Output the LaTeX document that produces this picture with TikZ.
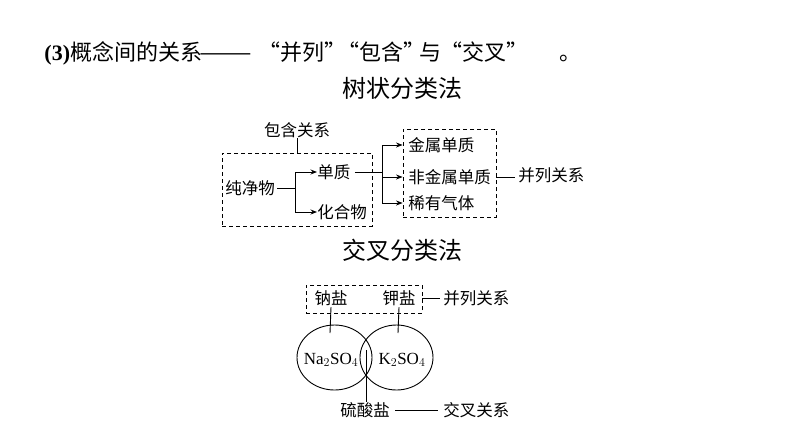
\documentclass[tikz,border=0pt]{standalone}
\usepackage{fontspec}
\usepackage{graphicx}
\setmainfont{Liberation Serif}
\newfontfamily\cjk{Noto Sans CJK SC}
\usetikzlibrary{arrows.meta,shapes.geometric}

\begin{document}
\begin{tikzpicture}[x=1pt,y=-1pt,line width=0.9pt,
	txt/.style={inner sep=0pt,font=\cjk\fontsize{16.5}{18}\selectfont},
	big/.style={inner sep=0pt,font=\cjk\fontsize{24}{26}\selectfont},
	dbox/.style={draw,dash pattern=on 4pt off 3pt,inner sep=0pt},
	arr/.style={-{Stealth[length=6.5pt,width=5pt]}},
	ring/.style={draw,ellipse,inner sep=0pt}]
	\useasboundingbox (0,0) rectangle (794,447);

	\node[inner sep=0pt,anchor=west,font=\cjk\fontsize{22}{24}\selectfont] (head) at (44,53)
		{\textbf{\rmfamily(3)}概念间的关系\makebox[50pt][r]{\scalebox{1.43}[1]{——}}\makebox[28pt][r]{“}并列\makebox[22pt][l]{”}\makebox[13pt][r]{“}包含\makebox[16pt][l]{”}与\makebox[21pt][r]{“}交叉\makebox[53pt][l]{”}。};
	\node[big] (tree) at (402,88) {树状分类法};
	\node[big] (cross) at (402,250) {交叉分类法};

	\node[dbox,minimum width=150,minimum height=73] (boxL) at (297,189.5) {};
	\node[dbox,minimum width=93,minimum height=88] (boxR) at (449.5,173) {};
	\node[txt] (incl) at (297,130) {包含关系};
	\node[txt,anchor=west] (pure) at (225,188) {纯净物};
	\node[txt,anchor=west] (elem) at (317,172) {单质};
	\node[txt,anchor=west] (comp) at (317,212) {化合物};
	\node[txt,anchor=west] (metal) at (408,145) {金属单质};
	\node[txt,anchor=west] (nonmetal) at (408,177) {非金属单质};
	\node[txt,anchor=west] (noble) at (408,203) {稀有气体};
	\node[txt,anchor=west] (par) at (518,175) {并列关系};
	\coordinate (jL) at (295,188);
	\coordinate (jR) at (382,172);

	\draw (incl.south) -- (boxL.north -| incl);
	\draw ([xshift=2pt]pure.east) -- (jL);
	\draw[arr] (jL) |- (elem.west);
	\draw[arr] (jL) |- (comp.west);
	\draw ([xshift=4pt]elem.east) -- (jR);
	\draw[arr] (jR) |- (boxR.west |- metal);
	\draw[arr] (jR) |- (boxR.west |- nonmetal);
	\draw[arr] (jR) |- (boxR.west |- noble);
	\draw (boxR.east |- nonmetal) -- ++(19,0);

	\node[dbox,minimum width=116,minimum height=28] (boxS) at (364,299) {};
	\node[txt] (na) at (331,298) {钠盐};
	\node[txt] (ka) at (399,298) {钾盐};
	\node[txt,anchor=west] (par2) at (443,298) {并列关系};
	\node[ring,minimum width=75,minimum height=65] (ringL) at (334.5,357.5) {};
	\node[ring,minimum width=73,minimum height=65] (ringR) at (396.5,357.5) {};
	\node[inner sep=0pt,font=\fontsize{17}{19}\selectfont] (naso) at (331,360) {Na$_2$SO$_4$};
	\node[inner sep=0pt,font=\fontsize{17}{19}\selectfont] (kso) at (402,360) {K$_2$SO$_4$};
	\node[txt] (sulf) at (365,410) {硫酸盐};
	\node[txt,anchor=west] (xrel) at (443,410) {交叉关系};
	\coordinate (inL) at (330,333);
	\coordinate (inR) at (398,333);
	\coordinate (inM) at (366,350);

	\draw (boxS.east |- par2) -- ([xshift=-3pt]par2.west);
	\draw (na.south) ++(0,1) -- (inL);
	\draw (ka.south) ++(0,1) -- (inR);
	\draw (inM) -- (inM |- sulf.north);
	\draw (sulf.east) ++(5,0) -- ([xshift=-5pt]xrel.west);
\end{tikzpicture}
\end{document}
